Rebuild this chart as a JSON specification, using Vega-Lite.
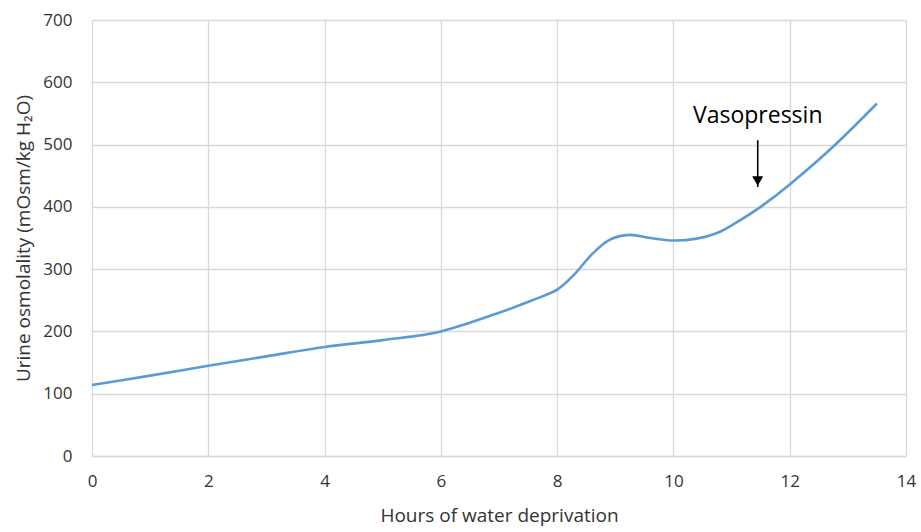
{
  "$schema": "https://vega.github.io/schema/vega-lite/v6.json",
  "width": 814,
  "height": 436,
  "autosize": {"type": "none"},
  "padding": {"left": 92, "top": 20, "right": 15, "bottom": 76},
  "background": "white",
  "config": {
    "view": {"stroke": null},
    "font": "Open Sans",
    "axis": {
      "labelFont": "Open Sans",
      "titleFont": "Open Sans",
      "labelColor": "#333333",
      "titleColor": "#333333",
      "labelFontSize": 17,
      "titleFontSize": 19,
      "titleFontWeight": "normal",
      "gridColor": "#d9d9d9",
      "gridWidth": 1.3,
      "domainColor": "#d9d9d9",
      "domainWidth": 1.3,
      "ticks": false,
      "labelFlush": false
    }
  },
  "datasets": {
    "curve": [
      {"hours": 0, "osm": 114},
      {"hours": 1, "osm": 129},
      {"hours": 2, "osm": 145},
      {"hours": 3, "osm": 160},
      {"hours": 4, "osm": 175},
      {"hours": 5, "osm": 186},
      {"hours": 6, "osm": 200},
      {"hours": 7, "osm": 230},
      {"hours": 7.6, "osm": 251},
      {"hours": 8, "osm": 267},
      {"hours": 8.3, "osm": 292},
      {"hours": 8.6, "osm": 324},
      {"hours": 8.9, "osm": 347},
      {"hours": 9.25, "osm": 355},
      {"hours": 9.6, "osm": 350},
      {"hours": 10.0, "osm": 346},
      {"hours": 10.4, "osm": 349},
      {"hours": 10.75, "osm": 358},
      {"hours": 11.1, "osm": 376},
      {"hours": 11.5, "osm": 400},
      {"hours": 12.0, "osm": 436},
      {"hours": 12.75, "osm": 497},
      {"hours": 13.5, "osm": 566}
    ],
    "arrow": [
      {"hours": 11.45, "top": 507, "tip": 432, "label": "Vasopressin", "labelY": 546}
    ]
  },
  "layer": [
    {
      "data": {"name": "curve"},
      "mark": {"type": "line", "interpolate": "cardinal", "color": "#5b9bd5", "strokeWidth": 2.6},
      "encoding": {
        "x": {
          "field": "hours", "type": "quantitative",
          "scale": {"domain": [0, 14], "nice": false},
          "axis": {"values": [0, 2, 4, 6, 8, 10, 12, 14], "format": "d", "title": "Hours of water deprivation", "labelPadding": 17, "titlePadding": 17}
        },
        "y": {
          "field": "osm", "type": "quantitative",
          "scale": {"domain": [0, 700], "nice": false},
          "axis": {"values": [0, 100, 200, 300, 400, 500, 600, 700], "format": "d", "title": "Urine osmolality (mOsm/kg H₂O)", "labelPadding": 20, "titlePadding": 9, "domain": false}
        }
      }
    },
    {
      "data": {"name": "arrow"},
      "mark": {"type": "rule", "color": "black", "strokeWidth": 1.6},
      "encoding": {
        "x": {"field": "hours", "type": "quantitative"},
        "y": {"field": "top", "type": "quantitative"},
        "y2": {"field": "tip"}
      }
    },
    {
      "data": {"name": "arrow"},
      "mark": {"type": "point", "shape": "triangle-down", "filled": true, "color": "black", "size": 120, "opacity": 1, "yOffset": -6},
      "encoding": {
        "x": {"field": "hours", "type": "quantitative"},
        "y": {"field": "tip", "type": "quantitative"}
      }
    },
    {
      "data": {"name": "arrow"},
      "mark": {"type": "text", "font": "Open Sans", "fontSize": 23, "color": "#000000", "baseline": "middle"},
      "encoding": {
        "x": {"field": "hours", "type": "quantitative"},
        "y": {"field": "labelY", "type": "quantitative"},
        "text": {"field": "label"}
      }
    }
  ]
}
